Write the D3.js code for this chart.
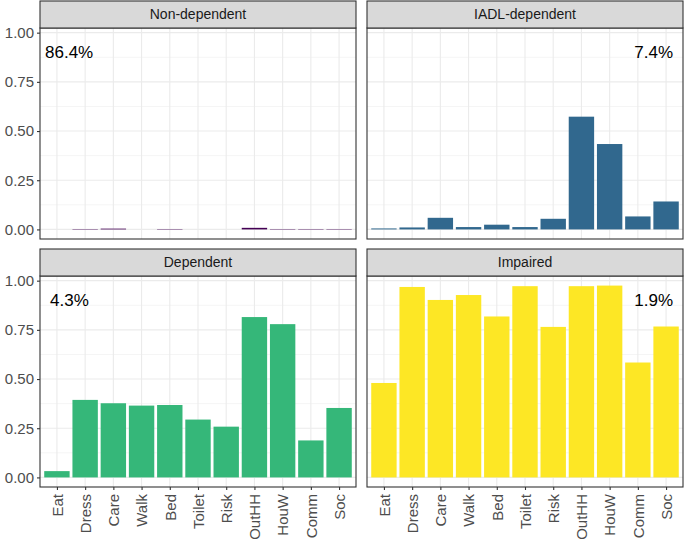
<!DOCTYPE html>
<html><head><meta charset="utf-8">
<script src="https://cdn.jsdelivr.net/npm/d3@7"></script>
<style>body{margin:0;background:#fff}svg{display:block}</style>
</head><body>
<script>
const categories = ["Eat","Dress","Care","Walk","Bed","Toilet","Risk","OutHH","HouW","Comm","Soc"];
const facets = ["Non-dependent","IADL-dependent","Dependent","Impaired"];
const shares = ["86.4%","7.4%","4.3%","1.9%"];
const colors = ["#440154","#31688E","#35B779","#FDE725"];
const nonDependent = [0,0.002,0.004,0,0.002,0,0,0.008,0.002,0.002,0.002];
const iadlDependent = [0.005,0.010,0.059,0.012,0.024,0.012,0.054,0.573,0.434,0.066,0.142];
const dependent = [0.032,0.394,0.377,0.365,0.368,0.294,0.258,0.815,0.779,0.188,0.353];
const impaired = [0.480,0.968,0.902,0.927,0.818,0.972,0.765,0.972,0.975,0.584,0.767];
const yTicks = [0,0.25,0.5,0.75,1.0];
const yMinor = [0.125,0.375,0.625,0.875];
const series = [nonDependent, iadlDependent, dependent, impaired];

const W=685,H=546;
const svg=d3.select("body").append("svg").attr("width",W).attr("height",H);
const font="'Liberation Sans', Arial, Helvetica, sans-serif";
const cols=[[40,356],[367,683]];
const rows=[{s0:1,p0:28,p1:239},{s0:249,p0:276,p1:487}];
const labelPos=[{anchor:"start",left:true},{anchor:"end",left:false},{anchor:"start",left:true},{anchor:"end",left:false}];

facets.forEach((f,i)=>{
  const c=cols[i%2], r=rows[Math.floor(i/2)];
  const x=d3.scalePoint().domain(categories).range(c).padding(0.6);
  const step=x.step();
  const bw=step*0.9;
  const y=d3.scaleLinear().domain([-0.0487,1.0237]).range([r.p1,r.p0]);
  const g=svg.append("g");
  g.append("rect").attr("x",c[0]).attr("y",r.p0).attr("width",c[1]-c[0]).attr("height",r.p1-r.p0).attr("fill","#fff");
  yMinor.forEach(v=>g.append("line").attr("x1",c[0]).attr("x2",c[1]).attr("y1",y(v)).attr("y2",y(v)).attr("stroke","#EBEBEB").attr("stroke-width",0.55));
  yTicks.forEach(v=>g.append("line").attr("x1",c[0]).attr("x2",c[1]).attr("y1",y(v)).attr("y2",y(v)).attr("stroke","#EBEBEB").attr("stroke-width",1.1));
  categories.forEach(k=>g.append("line").attr("x1",x(k)).attr("x2",x(k)).attr("y1",r.p0).attr("y2",r.p1).attr("stroke","#EBEBEB").attr("stroke-width",1.1));
  g.selectAll("rect.bar").data(series[i]).enter().append("rect").attr("class","bar")
    .attr("x",(d,j)=>x(categories[j])-bw/2).attr("width",bw)
    .attr("y",d=>y(d)).attr("height",d=>Math.max(0,y(0)-y(d)))
    .attr("fill",colors[i]);
  g.append("rect").attr("x",c[0]).attr("y",r.p0).attr("width",c[1]-c[0]).attr("height",r.p1-r.p0).attr("fill","none").attr("stroke","#333333").attr("stroke-width",1.1);
  g.append("rect").attr("x",c[0]).attr("y",r.s0).attr("width",c[1]-c[0]).attr("height",r.p0-r.s0).attr("fill","#D9D9D9").attr("stroke","#333333").attr("stroke-width",1.1);
  g.append("text").attr("x",(c[0]+c[1])/2).attr("y",(r.s0+r.p0)/2).attr("dy","0.35em").attr("text-anchor","middle")
    .attr("font-family",font).attr("font-size",14).attr("fill","#1A1A1A").text(f);
  const lp=labelPos[i];
  g.append("text").attr("x",lp.left? (i===0?45:50) : c[1]-10).attr("y",y(0.9)).attr("dy","0.35em")
    .attr("text-anchor",lp.anchor).attr("font-family",font).attr("font-size",17).attr("fill","#000").text(shares[i]);
  if(i%2===0){
    const ax=g.append("g").attr("transform",`translate(${c[0]},0)`)
      .call(d3.axisLeft(y).tickValues(yTicks).tickSize(3).tickPadding(3).tickFormat(d3.format(".2f")));
    ax.select(".domain").remove();
    ax.selectAll("line").attr("stroke","#333333").attr("stroke-width",1.1);
    ax.selectAll("text").attr("font-family",font).attr("font-size",15).attr("fill","#4D4D4D");
  }
  if(Math.floor(i/2)===1){
    const ax=g.append("g").attr("transform",`translate(0,${r.p1})`)
      .call(d3.axisBottom(x).tickSize(3).tickPadding(3));
    ax.select(".domain").remove();
    ax.selectAll("line").attr("stroke","#333333").attr("stroke-width",1.1);
    ax.selectAll("text").attr("font-family",font).attr("font-size",15).attr("fill","#4D4D4D")
      .attr("transform","rotate(-90)").attr("text-anchor","end").attr("x",-7).attr("y",0).attr("dy","0.35em");
  }
});
</script>
</body></html>
